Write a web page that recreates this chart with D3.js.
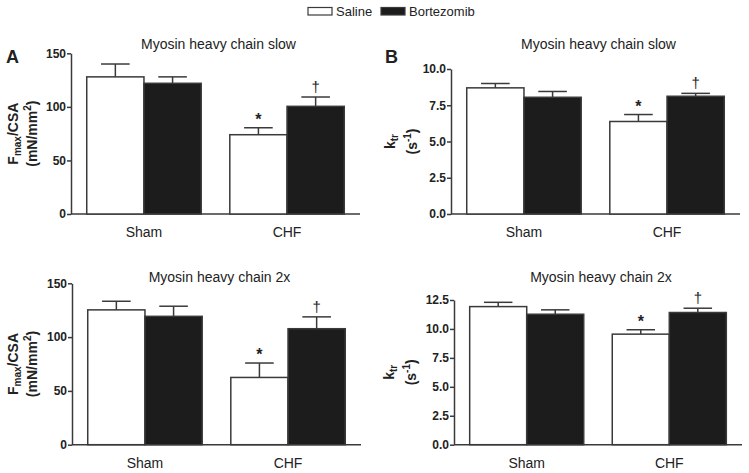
<!DOCTYPE html>
<html>
<head>
<meta charset="utf-8">
<script src="https://cdn.jsdelivr.net/npm/d3@7"></script>
<style>
  body { margin: 0; background: #fff; }
  svg { font-family: "Liberation Sans", Arial, sans-serif; }
</style>
</head>
<body>
<svg id="chart" width="749" height="473"></svg>
<script>
// ---- data
const groups = ["Sham", "CHF"];
const series = ["Saline", "Bortezomib"];

// Fmax/CSA, myosin heavy chain slow
const fmaxSlowSaline = [128, 74];
const fmaxSlowSalineErr = [12, 6.5];
const fmaxSlowBort = [122, 100.5];
const fmaxSlowBortErr = [6, 8.7];

// ktr, myosin heavy chain slow
const ktrSlowSaline = [8.7, 6.38];
const ktrSlowSalineErr = [0.3, 0.48];
const ktrSlowBort = [8.05, 8.12];
const ktrSlowBortErr = [0.4, 0.2];

// Fmax/CSA, myosin heavy chain 2x
const fmax2xSaline = [125.3, 62.5];
const fmax2xSalineErr = [8, 13.4];
const fmax2xBort = [119.3, 107.8];
const fmax2xBortErr = [9.4, 11];

// ktr, myosin heavy chain 2x
const ktr2xSaline = [11.93, 9.55];
const ktr2xSalineErr = [0.37, 0.38];
const ktr2xBort = [11.27, 11.42];
const ktr2xBortErr = [0.38, 0.37];

const fmaxTicks = [0, 50, 100, 150];
const ktrSlowTicks = [0, 2.5, 5, 7.5, 10];
const ktr2xTicks = [0, 2.5, 5, 7.5, 10, 12.5];

// significance marks per series (Sham, CHF)
const salineMarks = ["", "*"];
const bortMarks = ["", "\u2020"];

const stroke = "#3a3a3a";
const fills = {"Saline": "#ffffff", "Bortezomib": "#1c1c1c"};

const svg = d3.select("#chart");

// legend
const legend = svg.append("g");
series.forEach((s, i) => {
    let lx = [308, 381][i];
    legend.append("rect")
        .attr("x", lx).attr("y", 7.5)
        .attr("width", 24).attr("height", 7.5)
        .attr("fill", fills[s])
        .attr("stroke", stroke).attr("stroke-width", 1.2);
    legend.append("text")
        .attr("x", lx + 28).attr("y", 16)
        .attr("font-size", "13px").attr("fill", "#222")
        .text(s);
});

function makePanel(p) {
    let g = svg.append("g");

    let y = d3.scaleLinear().domain([0, p.max]).range([p.bottom, p.top]);
    let x0 = d3.scaleBand().domain(groups).range([p.left, p.right])
        .paddingInner(0.2).paddingOuter(0.11);
    let x1 = d3.scaleBand().domain(series).range([0, x0.bandwidth()]);

    // y axis
    let yAxis = d3.axisLeft(y).tickValues(p.ticks).tickSize(4).tickSizeOuter(0)
        .tickFormat(p.fmt);
    let ya = g.append("g")
        .attr("transform", `translate(${p.left},0)`)
        .call(yAxis);
    ya.select(".domain").attr("stroke", stroke).attr("stroke-width", 1.5);
    ya.selectAll(".tick line").attr("stroke", stroke).attr("stroke-width", 1.5);
    ya.selectAll(".tick text")
        .attr("font-size", "12px").attr("font-weight", "bold")
        .attr("font-family", "Liberation Sans, Arial, sans-serif")
        .attr("fill", "#222").attr("x", -5);

    // x axis line
    g.append("line")
        .attr("x1", p.left).attr("x2", p.right)
        .attr("y1", y(0)).attr("y2", y(0))
        .attr("stroke", stroke).attr("stroke-width", 1.5);

    // bars
    let rows = [];
    groups.forEach((grp, i) => {
        rows.push({grp, s: "Saline", v: p.saline[i], e: p.salineErr[i], m: salineMarks[i]});
        rows.push({grp, s: "Bortezomib", v: p.bort[i], e: p.bortErr[i], m: bortMarks[i]});
    });

    let bw = x1.bandwidth();
    g.selectAll("rect.bar").data(rows).enter()
        .append("rect")
        .attr("class", "bar")
        .attr("x", d => x0(d.grp) + x1(d.s))
        .attr("y", d => y(d.v))
        .attr("width", bw)
        .attr("height", d => y(0) - y(d.v))
        .attr("fill", d => fills[d.s])
        .attr("stroke", stroke).attr("stroke-width", 1.5);

    // error bars (upper only)
    let cx = d => x0(d.grp) + x1(d.s) + bw / 2;
    g.selectAll("line.err").data(rows).enter()
        .append("line")
        .attr("class", "err")
        .attr("x1", cx).attr("x2", cx)
        .attr("y1", d => y(d.v)).attr("y2", d => y(d.v + d.e))
        .attr("stroke", stroke).attr("stroke-width", 1.5);
    g.selectAll("line.cap").data(rows).enter()
        .append("line")
        .attr("class", "cap")
        .attr("x1", d => cx(d) - bw * 0.25).attr("x2", d => cx(d) + bw * 0.25)
        .attr("y1", d => y(d.v + d.e)).attr("y2", d => y(d.v + d.e))
        .attr("stroke", stroke).attr("stroke-width", 1.5);

    // significance
    g.selectAll("text.sig").data(rows.filter(d => d.m)).enter()
        .append("text")
        .attr("class", "sig")
        .attr("x", cx)
        .attr("y", d => y(d.v + d.e) - (d.m === "*" ? 3 : 5))
        .attr("text-anchor", "middle")
        .attr("font-size", d => d.m === "*" ? "16px" : "15px")
        .attr("font-weight", d => d.m === "*" ? "bold" : "normal")
        .attr("fill", "#222")
        .text(d => d.m);

    // group labels
    g.selectAll("text.grp").data(groups).enter()
        .append("text")
        .attr("class", "grp")
        .attr("x", d => x0(d) + x0.bandwidth() / 2)
        .attr("y", y(0) + 23)
        .attr("text-anchor", "middle")
        .attr("font-size", "14px").attr("fill", "#222")
        .text(d => d);

    // title
    g.append("text")
        .attr("x", (p.left + p.right) / 2 + 3)
        .attr("y", p.titleY)
        .attr("text-anchor", "middle")
        .attr("font-size", "14px").attr("fill", "#222")
        .text(p.title);

    // panel letter
    if (p.letter) {
        g.append("text")
            .attr("x", p.letterX).attr("y", 63)
            .attr("font-size", "18px").attr("font-weight", "bold").attr("fill", "#222")
            .text(p.letter);
    }

    // y label, two lines
    let midY = (p.top + p.bottom) / 2;
    let l1 = g.append("text")
        .attr("transform", `translate(${p.labelX},${midY}) rotate(-90)`)
        .attr("text-anchor", "middle")
        .attr("font-size", "14px").attr("font-weight", "bold").attr("fill", "#222");
    l1.append("tspan").text(p.lab1[0]);
    l1.append("tspan").attr("font-size", "10px").attr("dy", 3).text(p.lab1[1]);
    l1.append("tspan").attr("dy", -3).text(p.lab1[2]);

    let l2 = g.append("text")
        .attr("transform", `translate(${p.labelX + p.labelGap},${midY}) rotate(-90)`)
        .attr("text-anchor", "middle")
        .attr("font-size", "14px").attr("font-weight", "bold").attr("fill", "#222");
    l2.append("tspan").text(p.lab2[0]);
    l2.append("tspan").attr("font-size", "10px").attr("dy", -6).text(p.lab2[1]);
    l2.append("tspan").attr("dy", 6).text(p.lab2[2]);
}

const fmaxLab1 = ["F", "max", "/CSA"];
const fmaxLab2 = ["(mN/mm", "2", ")"];
const ktrLab1 = ["k", "tr", ""];
const ktrLab2 = ["(s", "-1", ")"];

makePanel({
    left: 71, right: 360, top: 53.3, bottom: 214, max: 150,
    ticks: fmaxTicks, fmt: d3.format("d"),
    saline: fmaxSlowSaline, salineErr: fmaxSlowSalineErr,
    bort: fmaxSlowBort, bortErr: fmaxSlowBortErr,
    title: "Myosin heavy chain slow", titleY: 49,
    letter: "A", letterX: 6, labelX: 18, labelGap: 19,
    lab1: fmaxLab1, lab2: fmaxLab2
});

makePanel({
    left: 451, right: 740, top: 69, bottom: 214, max: 10,
    ticks: ktrSlowTicks, fmt: d3.format(".1f"),
    saline: ktrSlowSaline, salineErr: ktrSlowSalineErr,
    bort: ktrSlowBort, bortErr: ktrSlowBortErr,
    title: "Myosin heavy chain slow", titleY: 49,
    letter: "B", letterX: 385, labelX: 395, labelGap: 22,
    lab1: ktrLab1, lab2: ktrLab2
});

makePanel({
    left: 72, right: 361, top: 283.3, bottom: 444.7, max: 150,
    ticks: fmaxTicks, fmt: d3.format("d"),
    saline: fmax2xSaline, salineErr: fmax2xSalineErr,
    bort: fmax2xBort, bortErr: fmax2xBortErr,
    title: "Myosin heavy chain 2x", titleY: 282,
    letter: null, labelX: 18, labelGap: 19,
    lab1: fmaxLab1, lab2: fmaxLab2
});

makePanel({
    left: 454, right: 742, top: 300, bottom: 444.7, max: 12.5,
    ticks: ktr2xTicks, fmt: d3.format(".1f"),
    saline: ktr2xSaline, salineErr: ktr2xSalineErr,
    bort: ktr2xBort, bortErr: ktr2xBortErr,
    title: "Myosin heavy chain 2x", titleY: 282,
    letter: null, labelX: 394, labelGap: 22,
    lab1: ktrLab1, lab2: ktrLab2
});
</script>
</body>
</html>
